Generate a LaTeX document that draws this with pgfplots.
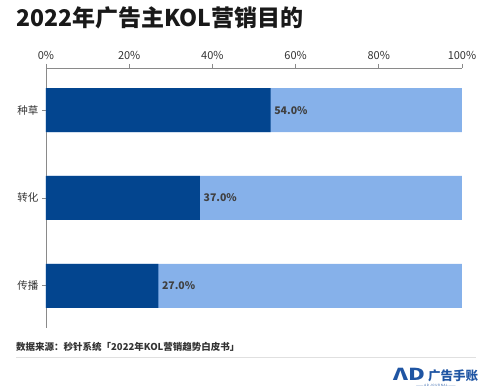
\documentclass[border=0pt]{standalone}
\usepackage{pgfplots}
\pgfplotsset{compat=1.18}
\usepackage{fontspec}
\setmainfont{Noto Sans CJK SC}
\definecolor{darkb}{HTML}{03458F}
\definecolor{lightb}{HTML}{86B1EA}
\definecolor{txt}{HTML}{333333}
\definecolor{axgray}{HTML}{8A8A8A}
\definecolor{logob}{HTML}{1F55A3}
\begin{document}
\begin{tikzpicture}[x=1pt,y=1pt]
\path[use as bounding box] (0,0) rectangle (483,-390);
\node[anchor=base west, inner sep=0, font=\fontsize{23}{28}\selectfont\bfseries, text=black!90] at (16,-27) {2022年广告主KOL营销目的};
\begin{axis}[
  at={(46pt,-68pt)}, anchor=north west,
  scale only axis, width=416pt, height=260pt,
  xbar, bar width=44pt, bar shift=0pt,
  xmin=0, xmax=100, ymin=-0.48, ymax=2.48,
  enlargelimits=false,
  axis x line*=top, axis y line*=left,
  axis line style={axgray, line width=0.9pt},
  tick style={axgray, line width=0.9pt},
  major tick length=4pt,
  tick align=outside,
  xtick={0,20,40,60,80,100},
  xticklabel={\pgfmathprintnumber{\tick}\%},
  ytick={0,1,2},
  yticklabels={传播,转化,种草},
  /pgf/number format/assume math mode=true,
  xticklabel style={font=\fontsize{11}{12}\selectfont, text=txt, yshift=1pt},
  yticklabel style={font=\fontsize{10.5}{12}\selectfont, text=txt},
]
\addplot[fill=lightb, draw=none]
  coordinates {(100,0) (100,1) (100,2)};
\addplot[fill=darkb, draw=none, point meta=x,
  nodes near coords={\pgfmathprintnumber[fixed,fixed zerofill,precision=1]{\pgfplotspointmeta}\%},
  every node near coord/.append style={anchor=west, inner sep=3.5pt, font=\fontsize{10.5}{12}\selectfont\bfseries, text=black!75, /pgf/number format/assume math mode=true}]
  coordinates {(27,0) (37,1) (54,2)};
\end{axis}
\node[anchor=base west, inner sep=0, font=\fontsize{9.5}{11}\selectfont\bfseries, text=txt] at (16,-351) {数据来源：秒针系统「2022年KOL营销趋势白皮书」};
\draw[black!12, line width=0.8pt] (16,-357) -- (476,-357);
\node[anchor=base west, inner sep=0, font=\fontsize{16.5}{16}\selectfont\bfseries, text=logob] at (393,-380.5) {\scalebox{1.4}[1]{ΛD}};
\node[anchor=base west, inner sep=0, font=\fontsize{12.5}{14}\selectfont\bfseries, text=logob] at (428,-381) {广告手账};
\node[anchor=center, inner sep=0, font=\fontsize{3}{3}\selectfont, text=logob] at (436,-385.5) {——— A D \ J O U R N A L ———};
\end{tikzpicture}
\end{document}
